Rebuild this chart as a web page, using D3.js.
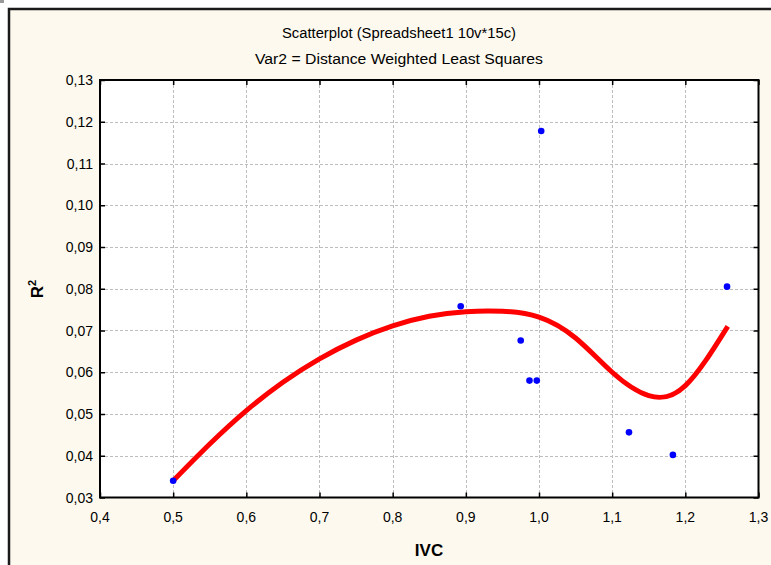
<!DOCTYPE html>
<html>
<head>
<meta charset="utf-8">
<script src="https://cdn.jsdelivr.net/npm/d3@7"></script>
<style>
  body { margin: 0; background: #fff; }
  svg { display: block; }
</style>
</head>
<body>
<div id="chart"></div>
<script>
// observed points (IVC, R^2)
const ivc = [0.500, 0.893, 0.975, 0.987, 0.997, 1.003, 1.123, 1.183, 1.257];
const r2  = [0.0340, 0.0758, 0.0676, 0.0580, 0.0580, 0.1178, 0.0456, 0.0402, 0.0805];

// distance weighted least squares fit
const fitX = [0.50, 0.55, 0.60, 0.65, 0.70, 0.75, 0.80, 0.85, 0.90, 0.95, 1.00, 1.05, 1.10, 1.15, 1.20, 1.258];
const fitY = [0.0340, 0.0428, 0.0508, 0.0576, 0.0632, 0.0677, 0.0711, 0.0734, 0.0745, 0.0746, 0.0732, 0.0682, 0.0600, 0.0544, 0.0568, 0.0710];

const xTicks = [0.4, 0.5, 0.6, 0.7, 0.8, 0.9, 1.0, 1.1, 1.2, 1.3];
const yTicks = [0.03, 0.04, 0.05, 0.06, 0.07, 0.08, 0.09, 0.10, 0.11, 0.12, 0.13];

const W = 771, H = 565;
const plot = { left: 100, top: 80, right: 758.5, bottom: 497.5 };

const svg = d3.select("#chart").append("svg")
  .attr("width", W)
  .attr("height", H)
  .style("font-family", "'Liberation Sans', Arial, sans-serif");

// outer panel
svg.append("rect").attr("x", 0).attr("y", 0).attr("width", 4).attr("height", 3).attr("fill", "#9a9a9a");
svg.append("rect")
  .attr("x", 9).attr("y", 9)
  .attr("width", 790).attr("height", 600)
  .attr("fill", "#fdf9ee")
  .attr("stroke", "#1a1a1a")
  .attr("stroke-width", 2.5);

const x = d3.scaleLinear().domain([0.4, 1.3]).range([plot.left, plot.right]);
const y = d3.scaleLinear().domain([0.03, 0.13]).range([plot.bottom, plot.top]);

svg.append("rect")
  .attr("x", plot.left).attr("y", plot.top)
  .attr("width", plot.right - plot.left).attr("height", plot.bottom - plot.top)
  .attr("fill", "#fff");

// titles
svg.append("text")
  .attr("x", 399).attr("y", 38)
  .attr("text-anchor", "middle")
  .style("font-size", "14px")
  .attr("textLength", 234)
  .attr("lengthAdjust", "spacingAndGlyphs")
  .text("Scatterplot (Spreadsheet1 10v*15c)");

svg.append("text")
  .attr("x", 399).attr("y", 64)
  .attr("text-anchor", "middle")
  .style("font-size", "14px")
  .attr("textLength", 288)
  .attr("lengthAdjust", "spacingAndGlyphs")
  .text("Var2 = Distance Weighted Least Squares");

// grid
const grid = svg.append("g")
  .attr("stroke", "#bdbdbd")
  .attr("stroke-width", 1)
  .attr("stroke-dasharray", "3,2");

grid.selectAll("line.gx")
  .data(xTicks.slice(1, -1))
  .join("line")
  .attr("x1", d => Math.round(x(d)) + 0.5).attr("x2", d => Math.round(x(d)) + 0.5)
  .attr("y1", plot.top).attr("y2", plot.bottom);

grid.selectAll("line.gy")
  .data(yTicks.slice(1, -1))
  .join("line")
  .attr("y1", d => Math.round(y(d)) + 0.5).attr("y2", d => Math.round(y(d)) + 0.5)
  .attr("x1", plot.left).attr("x2", plot.right);

// axes with inward ticks on all four sides
const fmt = d => d3.format(".1f")(d).replace(".", ",");
const fmtY = d => d3.format(".2f")(d).replace(".", ",");

const xMinor = d3.range(0, 37).map(i => 0.4 + i * 0.025);
const yMinor = d3.range(0, 41).map(i => 0.03 + i * 0.0025);

function tickAxis(axisFn, scale, vals, size) {
  return axisFn(scale).tickValues(vals).tickSize(size).tickFormat("");
}

const axBottom = svg.append("g").attr("transform", `translate(0,${plot.bottom})`);
axBottom.call(tickAxis(d3.axisTop, x, xMinor, 3));
axBottom.call(tickAxis(d3.axisTop, x, xTicks, 5));

const axTop = svg.append("g").attr("transform", `translate(0,${plot.top})`);
axTop.call(tickAxis(d3.axisBottom, x, xMinor, 3));
axTop.call(tickAxis(d3.axisBottom, x, xTicks, 5));

const axLeft = svg.append("g").attr("transform", `translate(${plot.left},0)`);
axLeft.call(tickAxis(d3.axisRight, y, yMinor, 3));
axLeft.call(tickAxis(d3.axisRight, y, yTicks, 5));

const axRight = svg.append("g").attr("transform", `translate(${plot.right},0)`);
axRight.call(tickAxis(d3.axisLeft, y, yMinor, 3));
axRight.call(tickAxis(d3.axisLeft, y, yTicks, 5));

svg.selectAll(".domain").remove();
svg.selectAll(".tick line").attr("stroke", "#000").attr("stroke-width", 1.5);

// tick labels
svg.append("g").selectAll("text")
  .data(xTicks)
  .join("text")
  .attr("x", d => x(d))
  .attr("y", plot.bottom + 24)
  .attr("text-anchor", "middle")
  .style("font-size", "14px")
  .text(fmt);

svg.append("g").selectAll("text")
  .data(yTicks)
  .join("text")
  .attr("x", plot.left - 7)
  .attr("y", d => y(d) + 5)
  .attr("text-anchor", "end")
  .style("font-size", "14px")
  .text(fmtY);

// plot frame
svg.append("rect")
  .attr("x", plot.left).attr("y", plot.top)
  .attr("width", plot.right - plot.left).attr("height", plot.bottom - plot.top)
  .attr("fill", "none")
  .attr("stroke", "#000")
  .attr("stroke-width", 2);

// axis titles
svg.append("text")
  .attr("x", 429).attr("y", 556)
  .attr("text-anchor", "middle")
  .style("font-size", "17px")
  .style("font-weight", "bold")
  .text("IVC");

const yTitle = svg.append("text")
  .attr("transform", "translate(43,289) rotate(-90)")
  .attr("text-anchor", "middle")
  .style("font-size", "17px")
  .style("font-weight", "bold");
yTitle.append("tspan").text("R");
yTitle.append("tspan").attr("dy", -7).style("font-size", "11px").text("2");

// fitted curve
const fit = fitX.map((v, i) => [v, fitY[i]]);
svg.append("path")
  .datum(fit)
  .attr("fill", "none")
  .attr("stroke", "#ff0000")
  .attr("stroke-width", 5)
  .attr("d", d3.line().x(d => x(d[0])).y(d => y(d[1])).curve(d3.curveNatural));

// points
svg.append("g").selectAll("circle")
  .data(ivc.map((v, i) => [v, r2[i]]))
  .join("circle")
  .attr("cx", d => x(d[0]))
  .attr("cy", d => y(d[1]))
  .attr("r", 3.3)
  .attr("fill", "#0000ff");
</script>
</body>
</html>
